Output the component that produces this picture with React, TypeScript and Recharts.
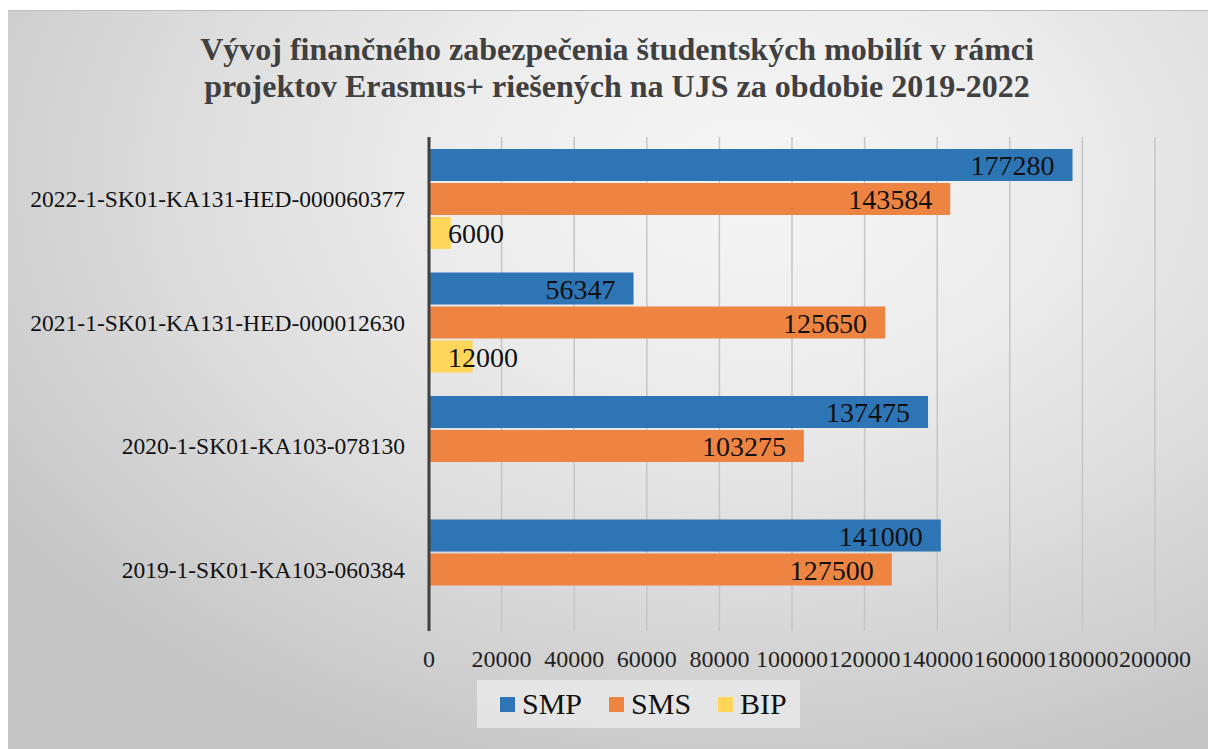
import React from "react";
import { BarChart, Bar, XAxis, YAxis, CartesianGrid, LabelList, Legend } from "recharts";

const categories = [
  "2022-1-SK01-KA131-HED-000060377",
  "2021-1-SK01-KA131-HED-000012630",
  "2020-1-SK01-KA103-078130",
  "2019-1-SK01-KA103-060384",
];
const smpValues = [177280, 56347, 137475, 141000];
const smsValues = [143584, 125650, 103275, 127500];
const bipValues: (number | null)[] = [6000, 12000, null, null];
const xTicks = [0, 20000, 40000, 60000, 80000, 100000, 120000, 140000, 160000, 180000, 200000];
const seriesNames = ["SMP", "SMS", "BIP"];
const seriesColors = ["#2E75B6", "#EE8442", "#FFD65A"];
const titleLines = [
  "Vývoj finančného zabezpečenia študentských mobilít v rámci",
  "projektov Erasmus+ riešených na UJS za obdobie 2019-2022",
];

const data = categories.map((c, i) => ({
  name: c,
  smp: smpValues[i],
  sms: smsValues[i],
  bip: bipValues[i],
}));

const FONT = "'Liberation Serif', 'Times New Roman', serif";

const renderLabel = (props: any) => {
  const { x, y, width, height, value } = props;
  if (value === null || value === undefined) return null;
  const txt = String(value);
  const textW = txt.length * 14;
  const big = width >= textW + 30;
  return (
    <text
      x={big ? x + width - 18 : x + 19}
      y={y + height / 2}
      dy="0.36em"
      textAnchor={big ? "end" : "start"}
      fontFamily={FONT}
      fontSize={28}
      fill="#111"
    >
      {txt}
    </text>
  );
};

const renderLegend = () => (
  <div
    style={{
      display: "flex",
      alignItems: "center",
      height: 48,
      background: "rgba(236,236,236,0.75)",
      paddingLeft: 23,
      boxSizing: "border-box",
      fontFamily: FONT,
      fontSize: 30,
      color: "#111",
    }}
  >
    {seriesNames.map((n, i) => (
      <div key={n} style={{ display: "flex", alignItems: "center", marginRight: 27 }}>
        <span style={{ width: 15, height: 15, background: seriesColors[i], display: "inline-block", marginRight: 7 }} />
        <span style={{ fontFamily: FONT }}>{n}</span>
      </div>
    ))}
  </div>
);

export default function App() {
  return (
    <div style={{ position: "absolute", left: 0, top: 0, width: 1208, height: 749, background: "#fff", overflow: "hidden" }}>
      <div
        style={{
          position: "absolute",
          left: 8,
          top: 10,
          width: 1200,
          height: 739,
          borderTop: "1px solid #bdbdbd",
          boxSizing: "border-box",
          background:
            "radial-gradient(ellipse 75% 85% at 62% 22%, #f6f6f6 0%, #ececec 35%, #dcdcdc 65%, #c6c6c6 100%)",
        }}
      >
        <div
          style={{
            position: "absolute",
            left: 18,
            top: 20,
            width: 1182,
            textAlign: "center",
            fontFamily: FONT,
            fontWeight: "bold",
            fontSize: 32,
            lineHeight: "37px",
            color: "#404040",
            whiteSpace: "nowrap",
          }}
        >
          {titleLines.map((t) => (
            <div key={t}>{t}</div>
          ))}
        </div>
        <div style={{ position: "absolute", left: 0, top: -1 }}>
          <BarChart
            width={1200}
            height={739}
            data={data}
            layout="vertical"
            margin={{ top: 127, right: 53, bottom: 78, left: 0 }}
            barCategoryGap={12}
            barGap={2}
          >
            <CartesianGrid horizontal={false} vertical={true} stroke="#c6c6c6" strokeWidth={1.5} />
            <XAxis
              type="number"
              domain={[0, 200000]}
              ticks={xTicks}
              interval={0}
              axisLine={false}
              tickLine={false}
              tickSize={6}
              tickMargin={13}
              height={40}
              tick={{ fontFamily: FONT, fontSize: 24, fill: "#222" }}
            />
            <YAxis
              type="category"
              dataKey="name"
              width={421}
              axisLine={{ stroke: "#404040", strokeWidth: 3 }}
              tickLine={false}
              tickSize={0}
              tickMargin={24}
              interval={0}
              tick={{ fontFamily: FONT, fontSize: 23.5, fill: "#111" }}
            />
            <Legend
              layout="horizontal"
              verticalAlign="middle"
              align="center"
              content={renderLegend}
              wrapperStyle={{ left: 469, top: 670, width: 323, height: 48 }}
            />
            <Bar dataKey="smp" name="SMP" fill={seriesColors[0]} isAnimationActive={false}>
              <LabelList dataKey="smp" content={renderLabel} />
            </Bar>
            <Bar dataKey="sms" name="SMS" fill={seriesColors[1]} isAnimationActive={false}>
              <LabelList dataKey="sms" content={renderLabel} />
            </Bar>
            <Bar dataKey="bip" name="BIP" fill={seriesColors[2]} isAnimationActive={false}>
              <LabelList dataKey="bip" content={renderLabel} />
            </Bar>
          </BarChart>
        </div>
      </div>
    </div>
  );
}
